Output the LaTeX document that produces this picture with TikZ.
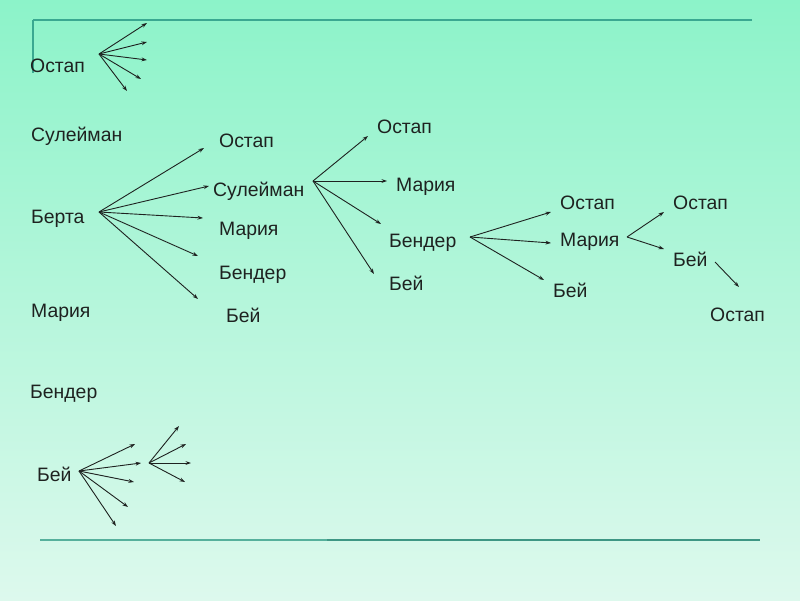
\documentclass[tikz,border=0pt]{standalone}
\usepackage{fontspec}
\setmainfont{Liberation Sans}
\usetikzlibrary{arrows.meta}
\definecolor{bgtop}{RGB}{140,243,201}
\definecolor{bgbot}{RGB}{221,249,237}
\definecolor{ruleA}{RGB}{58,168,145}
\definecolor{ruleB}{RGB}{86,176,156}
\definecolor{ruleC}{RGB}{62,150,132}
\definecolor{ink}{RGB}{30,34,32}
\begin{document}
\begin{tikzpicture}[x=1pt,y=-1pt,
  lbl/.style={anchor=base west,inner sep=0pt,font=\fontsize{19.4}{22}\selectfont,text=ink},
  arr/.style={draw=ink,line width=0.9pt,-{Stealth[length=5.5pt,width=3.8pt]}},
  rulestyle/.style={line width=2.8pt}]
\useasboundingbox (0,0) rectangle (800,600);
\shade[top color=bgtop,bottom color=bgbot] (0,0) rectangle (800,600);
% rules
\draw[rulestyle,draw=ruleA] (752,20) -- (33,20);
\draw[line width=1.6pt,draw=ruleA] (33,20) -- (33,73);
\draw[rulestyle,draw=ruleB] (40,540) -- (327,540);
\draw[rulestyle,draw=ruleC] (327,540) -- (760,540);
% left column
\node[lbl] (L1) at (30,72) {Остап};
\node[lbl] (L2) at (31,141) {Сулейман};
\node[lbl] (L3) at (31,223) {Берта};
\node[lbl] (L4) at (31,317) {Мария};
\node[lbl] (L5) at (30,398) {Бендер};
\node[lbl] (L6) at (37,481) {Бей};
% column 2
\node[lbl] (B1) at (219,147) {Остап};
\node[lbl] (B2) at (213,196) {Сулейман};
\node[lbl] (B3) at (219,235) {Мария};
\node[lbl] (B4) at (219,279) {Бендер};
\node[lbl] (B5) at (226,322) {Бей};
% column 3
\node[lbl] (C1) at (377,133) {Остап};
\node[lbl] (C2) at (396,191) {Мария};
\node[lbl] (C3) at (389,247) {Бендер};
\node[lbl] (C4) at (389,290) {Бей};
% column 4
\node[lbl] (D1) at (560,209) {Остап};
\node[lbl] (D2) at (560,246) {Мария};
\node[lbl] (D3) at (553,297) {Бей};
% column 5
\node[lbl] (E1) at (673,209) {Остап};
\node[lbl] (E2) at (673,266) {Бей};
\node[lbl] (E3) at (710,321) {Остап};
% origins
\coordinate (oA) at (99,54);
\coordinate (oB) at (99,212);
\coordinate (oC) at (313,181);
\coordinate (oD) at (470,237);
\coordinate (oE) at (627,237);
\coordinate (oF) at (715,262);
\coordinate (oG) at (79,471);
\coordinate (oH) at (149,463);
% fan from top Остап
\draw[arr] (oA) -- (147,23);
\draw[arr] (oA) -- (147,42);
\draw[arr] (oA) -- (147,60);
\draw[arr] (oA) -- (141,79);
\draw[arr] (oA) -- (127,91);
% Берта
\draw[arr] (oB) -- (204,148);
\draw[arr] (oB) -- (209,186);
\draw[arr] (oB) -- (203,218);
\draw[arr] (oB) -- (198,256);
\draw[arr] (oB) -- (198,299);
% Сулейман
\draw[arr] (oC) -- (368,136);
\draw[arr] (oC) -- (387,181);
\draw[arr] (oC) -- (381,224);
\draw[arr] (oC) -- (374,274);
% Бендер
\draw[arr] (oD) -- (551,212);
\draw[arr] (oD) -- (551,243);
\draw[arr] (oD) -- (544,280);
% Мария
\draw[arr] (oE) -- (664,212);
\draw[arr] (oE) -- (664,249);
% Бей -> Остап
\draw[arr] (oF) -- (739,287);
% bottom fans
\draw[arr] (oG) -- (135,444);
\draw[arr] (oG) -- (141,463);
\draw[arr] (oG) -- (134,482);
\draw[arr] (oG) -- (128,507);
\draw[arr] (oG) -- (116,526);
\draw[arr] (oH) -- (179,426);
\draw[arr] (oH) -- (186,444);
\draw[arr] (oH) -- (191,463);
\draw[arr] (oH) -- (185,482);
\end{tikzpicture}
\end{document}
